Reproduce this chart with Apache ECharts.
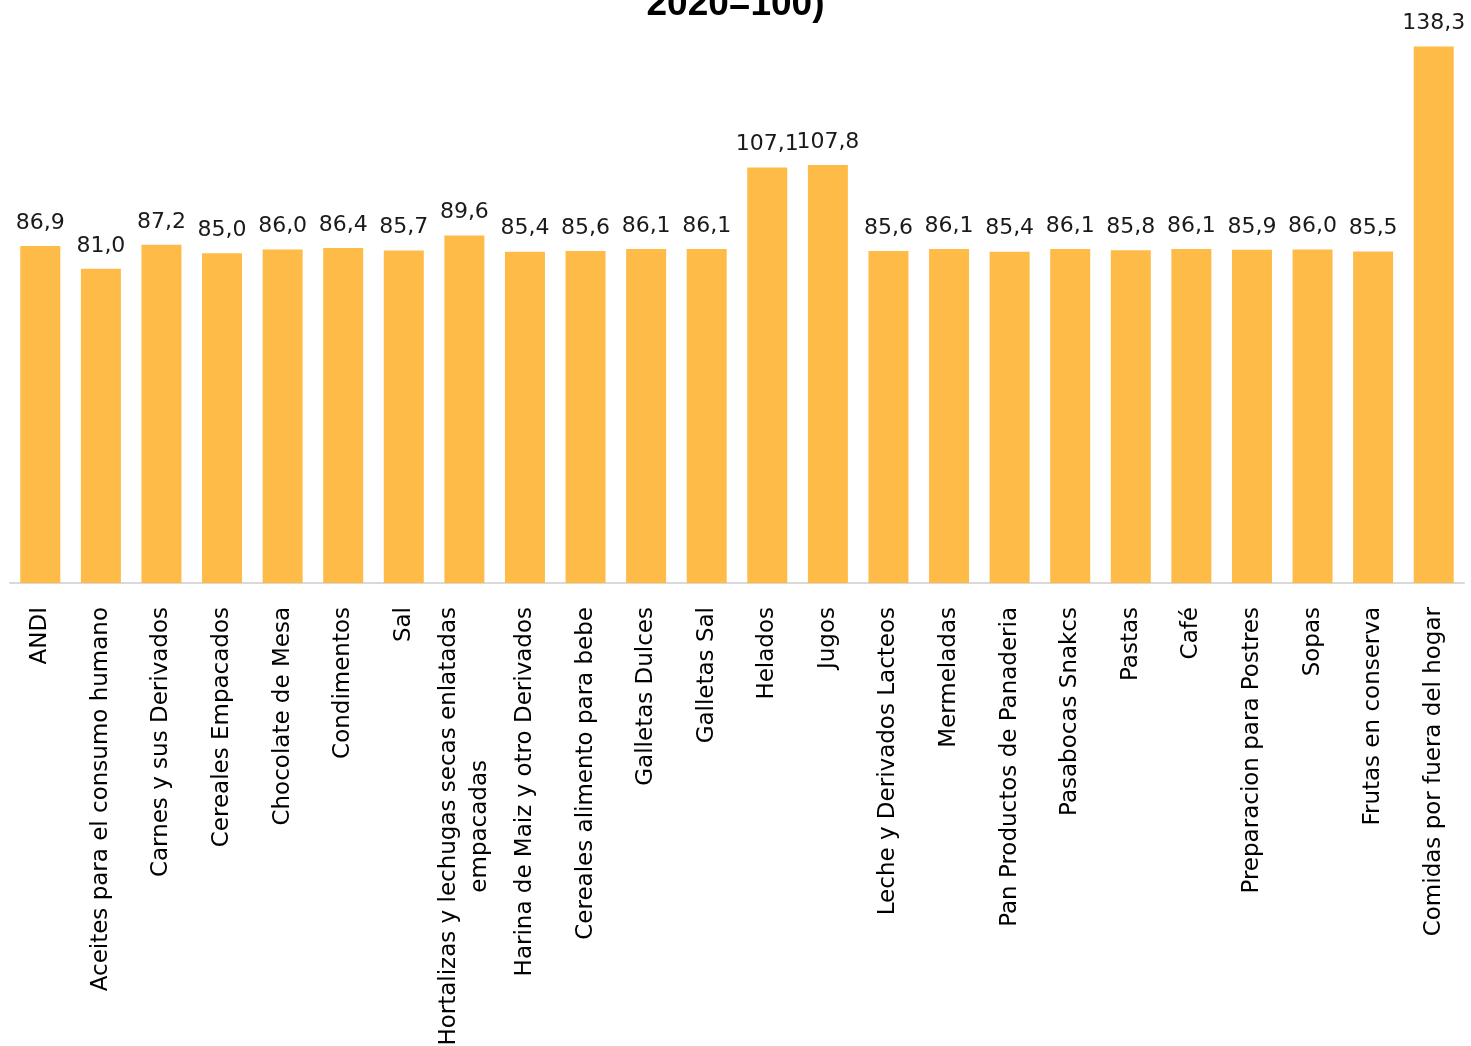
<!DOCTYPE html>
<html>
<head>
<meta charset="utf-8">
<script src="https://cdn.jsdelivr.net/npm/echarts@6/dist/echarts.min.js"></script>
<style>
html,body{margin:0;padding:0;background:#fff;}
#chart{width:1471px;height:1046px;}
</style>
</head>
<body>
<div id="chart"></div>
<script>
const categories = [
  "ANDI",
  "Aceites para el consumo humano",
  "Carnes y sus Derivados",
  "Cereales Empacados",
  "Chocolate de Mesa",
  "Condimentos",
  "Sal",
  "Hortalizas y lechugas secas enlatadas\nempacadas",
  "Harina de Maiz y otro Derivados",
  "Cereales alimento para bebe",
  "Galletas Dulces",
  "Galletas Sal",
  "Helados",
  "Jugos",
  "Leche y Derivados Lacteos",
  "Mermeladas",
  "Pan Productos de Panaderia",
  "Pasabocas Snakcs",
  "Pastas",
  "Café",
  "Preparacion para Postres",
  "Sopas",
  "Frutas en conserva",
  "Comidas por fuera del hogar"
];
const values = [86.9, 81.0, 87.2, 85.0, 86.0, 86.4, 85.7, 89.6, 85.4, 85.6, 86.1, 86.1, 107.1, 107.8, 85.6, 86.1, 85.4, 86.1, 85.8, 86.1, 85.9, 86.0, 85.5, 138.3];
const titleText = "2020=100)";

const FONT = "'DejaVu Sans', sans-serif";
const chart = echarts.init(document.getElementById('chart'), null, {renderer: 'canvas'});
chart.setOption({
  animation: false,
  backgroundColor: '#ffffff',
  title: {
    text: titleText,
    left: 'center',
    top: -19,
    textStyle: {fontFamily: "'Liberation Sans', Arial, sans-serif", fontWeight: 'bold', fontSize: 37, color: '#000'}
  },
  grid: {left: 10, right: 7, top: 40, bottom: 463, containLabel: false, outerBoundsMode: 'none'},
  xAxis: {
    type: 'category',
    data: categories,
    axisLine: {show: true, lineStyle: {color: '#d9d9d9', width: 2}},
    axisTick: {show: false},
    axisLabel: {
      interval: 0,
      rotate: 90,
      margin: 24,
      hideOverlap: false,
      fontFamily: FONT,
      fontSize: 23,
      color: '#000',
      formatter: function (v) {
        return v.split('\n').map(s => '{c|' + s + '}').join('\n');
      },
      rich: {c: {align: 'center', fontFamily: FONT, fontSize: 23, lineHeight: 31, color: '#000'}}
    }
  },
  yAxis: {
    type: 'value',
    min: 0,
    max: 140,
    show: false,
    splitLine: {show: false}
  },
  series: [{
    type: 'bar',
    data: values,
    barWidth: 40,
    itemStyle: {color: '#FFBB47'},
    label: {
      show: true,
      position: 'top',
      distance: 12,
      fontFamily: FONT,
      fontSize: 22,
      color: '#1a1a1a',
      formatter: p => p.value.toFixed(1).replace('.', ',')
    }
  }]
});
</script>
</body>
</html>
